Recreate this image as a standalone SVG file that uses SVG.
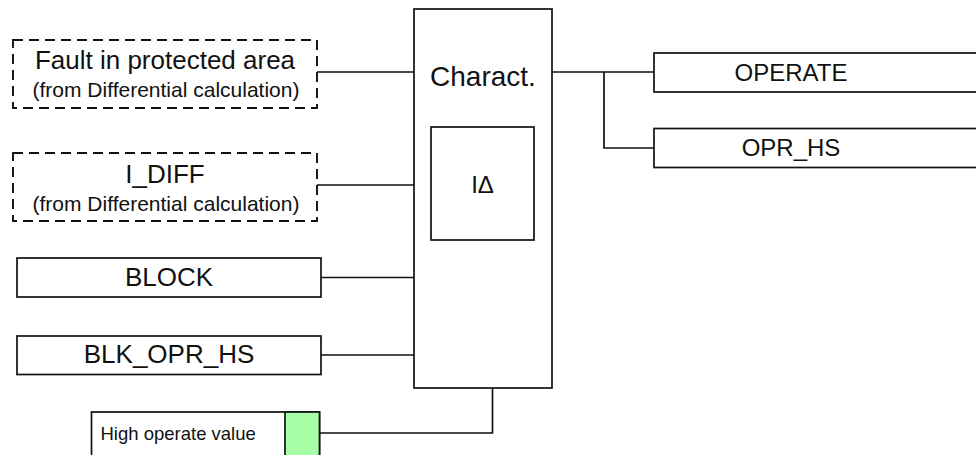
<svg xmlns="http://www.w3.org/2000/svg" width="976" height="455" viewBox="0 0 976 455">
<style>
.box{fill:#fff;stroke:#111;stroke-width:1.7}
.dash{fill:#fff;stroke:#111;stroke-width:1.9;stroke-dasharray:10,6}
.wire{fill:none;stroke:#111;stroke-width:1.7}
text{font-family:"Liberation Sans",Arial,sans-serif;fill:#111}
.t26{font-size:26px;text-anchor:middle}
.t21{font-size:21px;text-anchor:middle}
.t24{font-size:24px;text-anchor:middle}
</style>
<rect width="976" height="455" fill="#fff"/>
<g id="connectors">
<polyline class="wire" points="317,72 414,72"/>
<polyline class="wire" points="317,185 414,185"/>
<polyline class="wire" points="321,277.5 414,277.5"/>
<polyline class="wire" points="321,355 414,355"/>
<polyline class="wire" points="319.5,433 492.5,433 492.5,388"/>
<polyline class="wire" points="552,72 654,72"/>
<polyline class="wire" points="604,72 604,148 654,148"/>
</g>
<g id="fault">
<rect class="dash" x="13" y="40" width="304" height="68"/>
<text class="t26" x="165" y="69">Fault in protected area</text>
<text class="t21" x="166" y="97">(from Differential calculation)</text>
</g>
<g id="idiff">
<rect class="dash" x="13" y="153" width="304" height="68"/>
<text class="t26" x="165" y="182.5">I_DIFF</text>
<text class="t21" x="166" y="211">(from Differential calculation)</text>
</g>
<g id="block">
<rect class="box" x="17" y="258" width="304" height="39"/>
<text class="t26" x="169" y="286">BLOCK</text>
</g>
<g id="blk_opr_hs">
<rect class="box" x="17" y="336" width="304" height="38.5"/>
<text class="t26" x="169" y="363">BLK_OPR_HS</text>
</g>
<g id="high_operate">
<rect class="box" x="91.5" y="412" width="228" height="60"/>
<rect x="285" y="412" width="34.5" height="60" fill="#a6ffa6" stroke="#111" stroke-width="1.7"/>
<text x="100.5" y="439.5" font-size="18.5">High operate value</text>
</g>
<g id="charact">
<rect class="box" x="414" y="9" width="138" height="379"/>
<text x="483" y="86" font-size="28" text-anchor="middle">Charact.</text>
<rect class="box" x="431" y="127" width="103" height="113"/>
<text class="t24" x="482.5" y="193">IΔ</text>
</g>
<g id="operate">
<rect class="box" x="654" y="53" width="340" height="39"/>
<text class="t24" x="791" y="80.5">OPERATE</text>
</g>
<g id="opr_hs">
<rect class="box" x="654" y="128.5" width="340" height="39"/>
<text class="t24" x="791" y="156">OPR_HS</text>
</g>
</svg>
